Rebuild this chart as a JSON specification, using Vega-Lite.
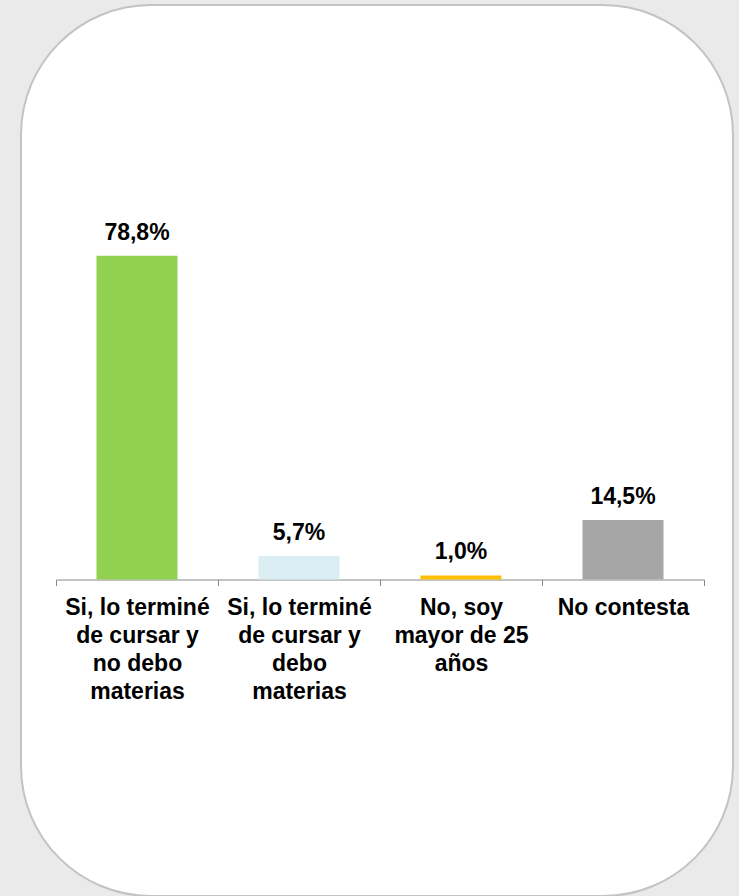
{
  "$schema": "https://vega.github.io/schema/vega-lite/v6.json",
  "width": 712,
  "height": 891,
  "autosize": {"type": "none"},
  "padding": {"left": 21, "top": 5, "right": 6, "bottom": 0},
  "background": "#eaeaea",
  "config": {
    "view": {"fill": "#ffffff", "stroke": "#c3c3c3", "strokeWidth": 2, "cornerRadius": 130},
    "locale": {"number": {"decimal": ",", "thousands": ".", "grouping": [3], "currency": ["$", ""]}},
    "font": "Liberation Sans"
  },
  "data": {
    "values": [
      {"respuesta": "Si, lo terminé\nde cursar y\nno debo\nmaterias", "share": 0.788},
      {"respuesta": "Si, lo terminé\nde cursar y\ndebo\nmaterias", "share": 0.057},
      {"respuesta": "No, soy\nmayor de 25\naños", "share": 0.010},
      {"respuesta": "No contesta", "share": 0.145}
    ]
  },
  "encoding": {
    "x": {
      "field": "respuesta",
      "type": "nominal",
      "sort": null,
      "scale": {"range": [35, 683], "paddingInner": 0, "paddingOuter": 0},
      "axis": {
        "title": null,
        "offset": -316.5,
        "labelAngle": 0,
        "tickBand": "extent",
        "domainColor": "#888888",
        "domainWidth": 1,
        "tickColor": "#888888",
        "tickWidth": 1,
        "tickSize": 6,
        "grid": false,
        "labelFont": "Liberation Sans",
        "labelFontSize": 23,
        "labelFontWeight": "bold",
        "labelColor": "#000000",
        "labelPadding": 11,
        "labelLineHeight": 28,
        "labelLimit": 0,
        "labelBaseline": "top",
        "labelExpr": "split(datum.label, '\\n')"
      }
    },
    "y": {
      "field": "share",
      "type": "quantitative",
      "scale": {"domain": [0, 1], "range": [574.5, 163.6], "nice": false},
      "axis": null
    }
  },
  "layer": [
    {
      "mark": {"type": "bar", "width": {"band": 0.5}},
      "encoding": {
        "color": {
          "field": "respuesta",
          "type": "nominal",
          "sort": null,
          "scale": {
            "domain": [
              "Si, lo terminé\nde cursar y\nno debo\nmaterias",
              "Si, lo terminé\nde cursar y\ndebo\nmaterias",
              "No, soy\nmayor de 25\naños",
              "No contesta"
            ],
            "range": ["#92d050", "#daeef3", "#ffc000", "#a6a6a6"]
          },
          "legend": null
        }
      }
    },
    {
      "mark": {"type": "text", "font": "Liberation Sans", "fontSize": 23, "fontWeight": "bold", "baseline": "alphabetic", "dy": -16, "color": "#000000"},
      "encoding": {
        "text": {"field": "share", "type": "quantitative", "format": ".1%"}
      }
    }
  ]
}
